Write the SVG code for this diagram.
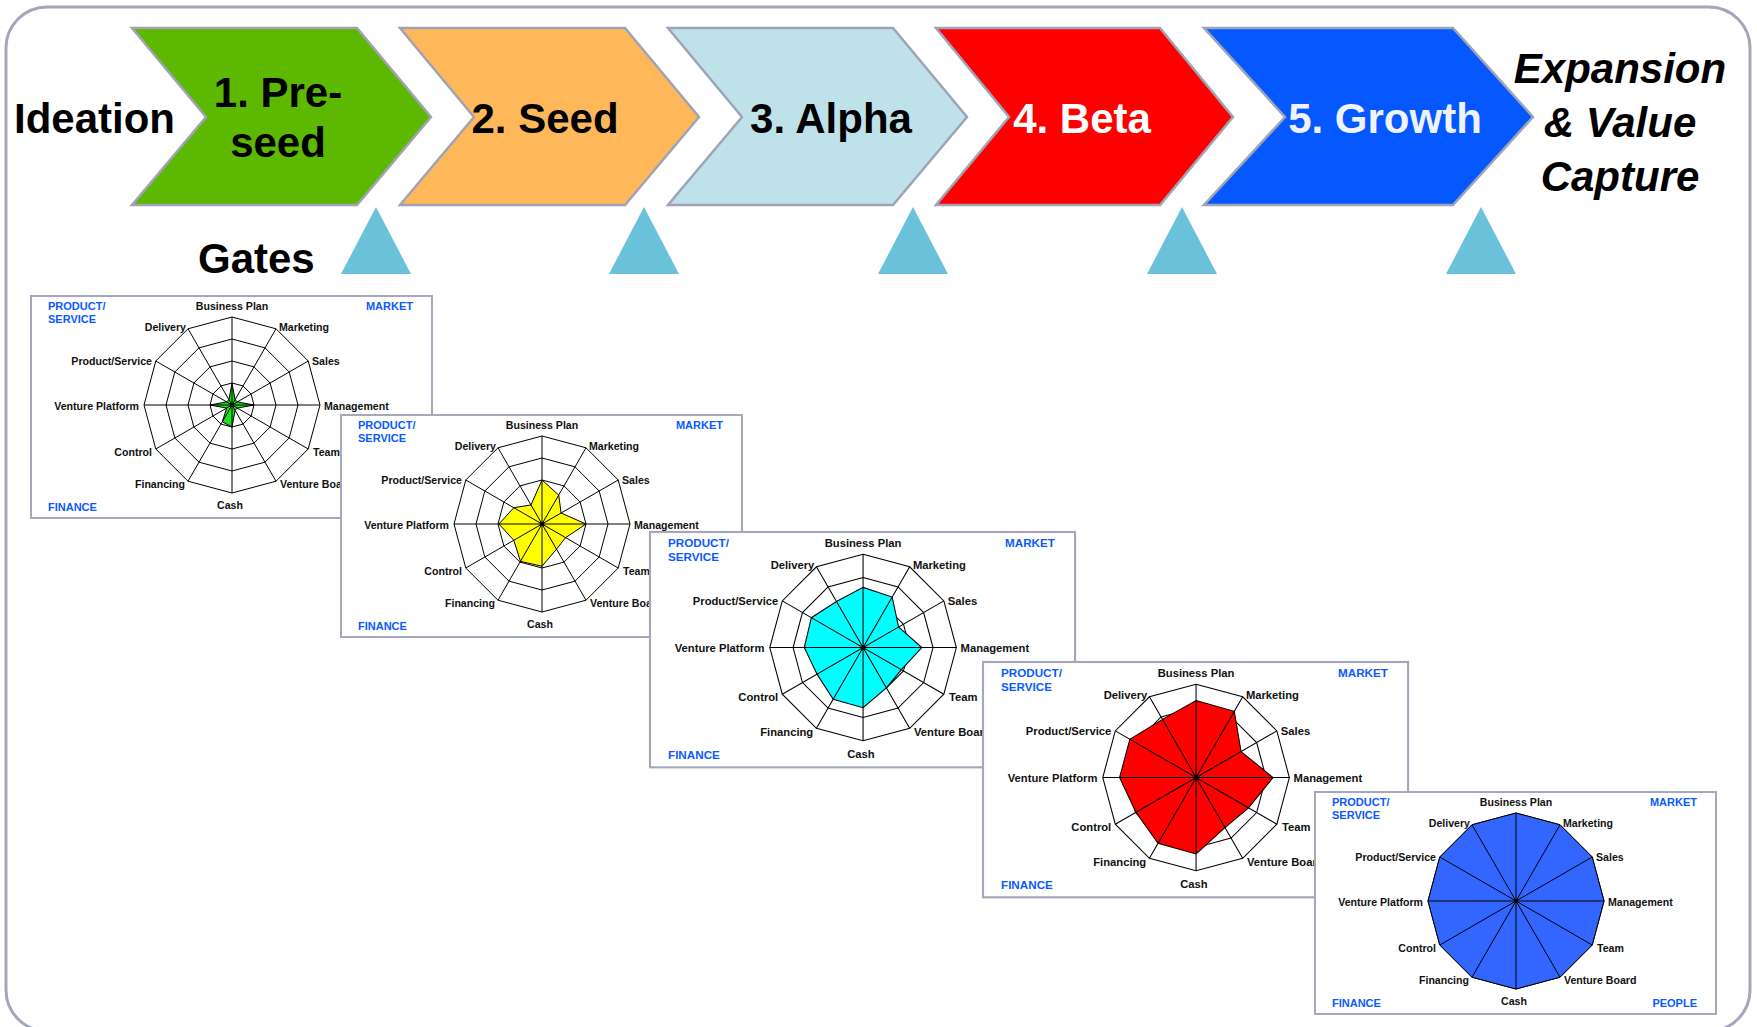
<svg xmlns="http://www.w3.org/2000/svg" xmlns:xlink="http://www.w3.org/1999/xlink" width="1757" height="1027" viewBox="0 0 1757 1027">
<style>
.frame{fill:#fff;stroke:#A4A7BB;stroke-width:3}
.chev{stroke:#9FA3B7;stroke-width:2.5}
.big{font-family:"Liberation Sans",Arial,sans-serif;font-weight:bold;font-size:42px}
.gate{fill:#6AC1DA}
.panel{fill:#fff;stroke:#A5A8BA;stroke-width:2}
.lbl{font-family:"Liberation Sans",Arial,sans-serif;font-weight:bold;font-size:10.6px;fill:#111}
.cat{font-family:"Liberation Sans",Arial,sans-serif;font-weight:bold;font-size:11px;fill:#0A5AFF}
.ring{fill:none;stroke:#000;stroke-width:1}
.spk{stroke:#000;stroke-width:1}
.val{stroke:#000;stroke-width:1;stroke-linejoin:miter}
</style>
<defs>
<g id="grid">
<polygon class="ring" points="0,-88 44,-76.21 76.21,-44 88,0 76.21,44 44,76.21 0,88 -44,76.21 -76.21,44 -88,0 -76.21,-44 -44,-76.21"/>
<polygon class="ring" points="0,-66 33,-57.16 57.16,-33 66,0 57.16,33 33,57.16 0,66 -33,57.16 -57.16,33 -66,0 -57.16,-33 -33,-57.16"/>
<polygon class="ring" points="0,-44 22,-38.11 38.11,-22 44,0 38.11,22 22,38.11 0,44 -22,38.11 -38.11,22 -44,0 -38.11,-22 -22,-38.11"/>
<polygon class="ring" points="0,-22 11,-19.05 19.05,-11 22,0 19.05,11 11,19.05 0,22 -11,19.05 -19.05,11 -22,0 -19.05,-11 -11,-19.05"/>
</g>
<g id="spokes">
<path class="spk" d="M0,-88V88M-88,0H88M44,-76.21L-44,76.21M76.21,-44L-76.21,44M76.21,44L-76.21,-44M44,76.21L-44,-76.21"/>
<circle r="2.2" fill="#000"/>
</g>
</defs>

<rect class="frame" x="6" y="7" width="1744" height="1024" rx="41"/>

<g id="stages">
<g id="stage1"><polygon class="chev" fill="#5DB800" points="132,28 357,28 431,117 357,205 132,205 206,117"/>
<text class="big" x="278" y="107" text-anchor="middle">1. Pre-</text><text class="big" x="278" y="157" text-anchor="middle">seed</text></g>
<g id="stage2"><polygon class="chev" fill="#FFB859" points="400,28 625,28 699,117 625,205 400,205 474,117"/>
<text class="big" x="545" y="133" text-anchor="middle">2. Seed</text></g>
<g id="stage3"><polygon class="chev" fill="#BFE2EA" points="668,28 893,28 967,117 893,205 668,205 742,117"/>
<text class="big" x="831" y="133" text-anchor="middle">3. Alpha</text></g>
<g id="stage4"><polygon class="chev" fill="#FF0000" points="936,28 1160,28 1233,117 1160,205 936,205 1009,117"/>
<text class="big" x="1082" y="133" text-anchor="middle" fill="#fff">4. Beta</text></g>
<g id="stage5"><polygon class="chev" fill="#0558FF" points="1204,28 1453,28 1533,117 1453,205 1204,205 1285,117"/>
<text class="big" x="1385" y="133" text-anchor="middle" fill="#EEF3FF">5. Growth</text></g>
</g>
<g id="ideation"><text class="big" x="14" y="133">Ideation</text></g>
<g id="expansion"><text class="big" font-style="italic" text-anchor="middle"><tspan x="1620" y="83">Expansion</tspan><tspan x="1620" y="137">&amp; Value</tspan><tspan x="1620" y="191">Capture</tspan></text></g>

<g id="gates">
<text class="big" x="198" y="273">Gates</text>
<polygon class="gate" points="341,274 376,207 411,274"/>
<polygon class="gate" points="609,274 644,207 679,274"/>
<polygon class="gate" points="878,274 913,207 948,274"/>
<polygon class="gate" points="1147,274 1182,207 1217,274"/>
<polygon class="gate" points="1446,274 1481,207 1516,274"/>
</g>

<g id="panel1" transform="translate(31,296)">
<rect class="panel" x="0" y="0" width="401" height="222"/>
<text class="cat" x="17" y="14">PRODUCT/</text><text class="cat" x="17" y="27">SERVICE</text>
<text class="cat" x="382" y="14" text-anchor="end">MARKET</text>
<text class="cat" x="17" y="214.5">FINANCE</text>
<text class="lbl" x="201" y="14" text-anchor="middle">Business Plan</text>
<text class="lbl" x="248" y="35">Marketing</text>
<text class="lbl" x="155" y="35" text-anchor="end">Delivery</text>
<text class="lbl" x="281" y="68.5">Sales</text>
<text class="lbl" x="121" y="68.5" text-anchor="end">Product/Service</text>
<text class="lbl" x="293" y="113.5">Management</text>
<text class="lbl" x="108" y="113.5" text-anchor="end">Venture Platform</text>
<text class="lbl" x="282" y="159.5">Team</text>
<text class="lbl" x="121" y="159.5" text-anchor="end">Control</text>
<text class="lbl" x="249" y="192">Venture Board</text>
<text class="lbl" x="154" y="192" text-anchor="end">Financing</text>
<text class="lbl" x="199" y="213" text-anchor="middle">Cash</text>
<g transform="translate(201,109)">
<use xlink:href="#grid" href="#grid"/>
<polygon class="val" fill="#1FE01F" points="0,-22 3.08,-5.33 5.33,-3.08 22,0 5.33,3.08 3.08,5.33 0,22 -9.68,16.77 -5.33,3.08 -22,0 -5.33,-3.08 -3.08,-5.33"/>
<use xlink:href="#spokes" href="#spokes"/>
</g>
</g>

<g id="panel2" transform="translate(341,415)">
<rect class="panel" x="0" y="0" width="401" height="222"/>
<text class="cat" x="17" y="14">PRODUCT/</text><text class="cat" x="17" y="27">SERVICE</text>
<text class="cat" x="382" y="14" text-anchor="end">MARKET</text>
<text class="cat" x="17" y="214.5">FINANCE</text>
<text class="lbl" x="201" y="14" text-anchor="middle">Business Plan</text>
<text class="lbl" x="248" y="35">Marketing</text>
<text class="lbl" x="155" y="35" text-anchor="end">Delivery</text>
<text class="lbl" x="281" y="68.5">Sales</text>
<text class="lbl" x="121" y="68.5" text-anchor="end">Product/Service</text>
<text class="lbl" x="293" y="113.5">Management</text>
<text class="lbl" x="108" y="113.5" text-anchor="end">Venture Platform</text>
<text class="lbl" x="282" y="159.5">Team</text>
<text class="lbl" x="121" y="159.5" text-anchor="end">Control</text>
<text class="lbl" x="249" y="192">Venture Board</text>
<text class="lbl" x="154" y="192" text-anchor="end">Financing</text>
<text class="lbl" x="199" y="213" text-anchor="middle">Cash</text>
<g transform="translate(201,109)">
<use xlink:href="#grid" href="#grid"/>
<polygon class="val" fill="#FFFF00" points="0,-44 16.72,-28.96 19.05,-11 44,0 23.62,13.64 14.52,25.15 0,42.24 -21.56,37.34 -28.2,16.28 -43.12,0 -28.2,-16.28 -11,-19.05"/>
<use xlink:href="#spokes" href="#spokes"/>
</g>
</g>

<g id="panel3" transform="translate(650,532) scale(1.06)">
<rect class="panel" x="0" y="0" width="401" height="222"/>
<text class="cat" x="17" y="14">PRODUCT/</text><text class="cat" x="17" y="27">SERVICE</text>
<text class="cat" x="382" y="14" text-anchor="end">MARKET</text>
<text class="cat" x="17" y="214.5">FINANCE</text>
<text class="lbl" x="201" y="14" text-anchor="middle">Business Plan</text>
<text class="lbl" x="248" y="35">Marketing</text>
<text class="lbl" x="155" y="35" text-anchor="end">Delivery</text>
<text class="lbl" x="281" y="68.5">Sales</text>
<text class="lbl" x="121" y="68.5" text-anchor="end">Product/Service</text>
<text class="lbl" x="293" y="113.5">Management</text>
<text class="lbl" x="108" y="113.5" text-anchor="end">Venture Platform</text>
<text class="lbl" x="282" y="159.5">Team</text>
<text class="lbl" x="121" y="159.5" text-anchor="end">Control</text>
<text class="lbl" x="249" y="192">Venture Board</text>
<text class="lbl" x="154" y="192" text-anchor="end">Financing</text>
<text class="lbl" x="199" y="213" text-anchor="middle">Cash</text>
<g transform="translate(201,109)">
<use xlink:href="#grid" href="#grid"/>
<polygon class="val" fill="#00FFFF" points="0,-56.76 27.5,-47.63 33.53,-19.36 55.44,0 36.2,20.9 22,38.11 0,56.76 -28.16,48.77 -43.44,25.08 -55.44,0 -48.77,-28.16 -25.08,-43.44"/>
<use xlink:href="#spokes" href="#spokes"/>
</g>
</g>

<g id="panel4" transform="translate(983,662) scale(1.06)">
<rect class="panel" x="0" y="0" width="401" height="222"/>
<text class="cat" x="17" y="14">PRODUCT/</text><text class="cat" x="17" y="27">SERVICE</text>
<text class="cat" x="382" y="14" text-anchor="end">MARKET</text>
<text class="cat" x="17" y="214.5">FINANCE</text>
<text class="lbl" x="201" y="14" text-anchor="middle">Business Plan</text>
<text class="lbl" x="248" y="35">Marketing</text>
<text class="lbl" x="155" y="35" text-anchor="end">Delivery</text>
<text class="lbl" x="281" y="68.5">Sales</text>
<text class="lbl" x="121" y="68.5" text-anchor="end">Product/Service</text>
<text class="lbl" x="293" y="113.5">Management</text>
<text class="lbl" x="108" y="113.5" text-anchor="end">Venture Platform</text>
<text class="lbl" x="282" y="159.5">Team</text>
<text class="lbl" x="121" y="159.5" text-anchor="end">Control</text>
<text class="lbl" x="249" y="192">Venture Board</text>
<text class="lbl" x="154" y="192" text-anchor="end">Financing</text>
<text class="lbl" x="199" y="213" text-anchor="middle">Cash</text>
<g transform="translate(201,109)">
<use xlink:href="#grid" href="#grid"/>
<polygon class="val" fill="#FF0000" points="0,-72.6 36.08,-62.49 42.45,-24.51 72.6,0 49.54,28.6 27.28,47.25 0,72.16 -35.86,62.11 -56.78,32.78 -72.16,0 -62.49,-36.08 -31.68,-54.87"/>
<use xlink:href="#spokes" href="#spokes"/>
</g>
</g>

<g id="panel5" transform="translate(1315,792)">
<rect class="panel" x="0" y="0" width="401" height="222"/>
<text class="cat" x="17" y="14">PRODUCT/</text><text class="cat" x="17" y="27">SERVICE</text>
<text class="cat" x="382" y="14" text-anchor="end">MARKET</text>
<text class="cat" x="17" y="214.5">FINANCE</text>
<text class="cat" x="382" y="214.5" text-anchor="end">PEOPLE</text>
<text class="lbl" x="201" y="14" text-anchor="middle">Business Plan</text>
<text class="lbl" x="248" y="35">Marketing</text>
<text class="lbl" x="155" y="35" text-anchor="end">Delivery</text>
<text class="lbl" x="281" y="68.5">Sales</text>
<text class="lbl" x="121" y="68.5" text-anchor="end">Product/Service</text>
<text class="lbl" x="293" y="113.5">Management</text>
<text class="lbl" x="108" y="113.5" text-anchor="end">Venture Platform</text>
<text class="lbl" x="282" y="159.5">Team</text>
<text class="lbl" x="121" y="159.5" text-anchor="end">Control</text>
<text class="lbl" x="249" y="192">Venture Board</text>
<text class="lbl" x="154" y="192" text-anchor="end">Financing</text>
<text class="lbl" x="199" y="213" text-anchor="middle">Cash</text>
<g transform="translate(201,109)">
<use xlink:href="#grid" href="#grid"/>
<polygon class="val" fill="#3366FF" stroke-width="1.3" points="0,-88 44,-76.21 76.21,-44 88,0 76.21,44 44,76.21 0,88 -44,76.21 -76.21,44 -88,0 -76.21,-44 -44,-76.21"/>
<use xlink:href="#spokes" href="#spokes"/>
</g>
</g>
</svg>
